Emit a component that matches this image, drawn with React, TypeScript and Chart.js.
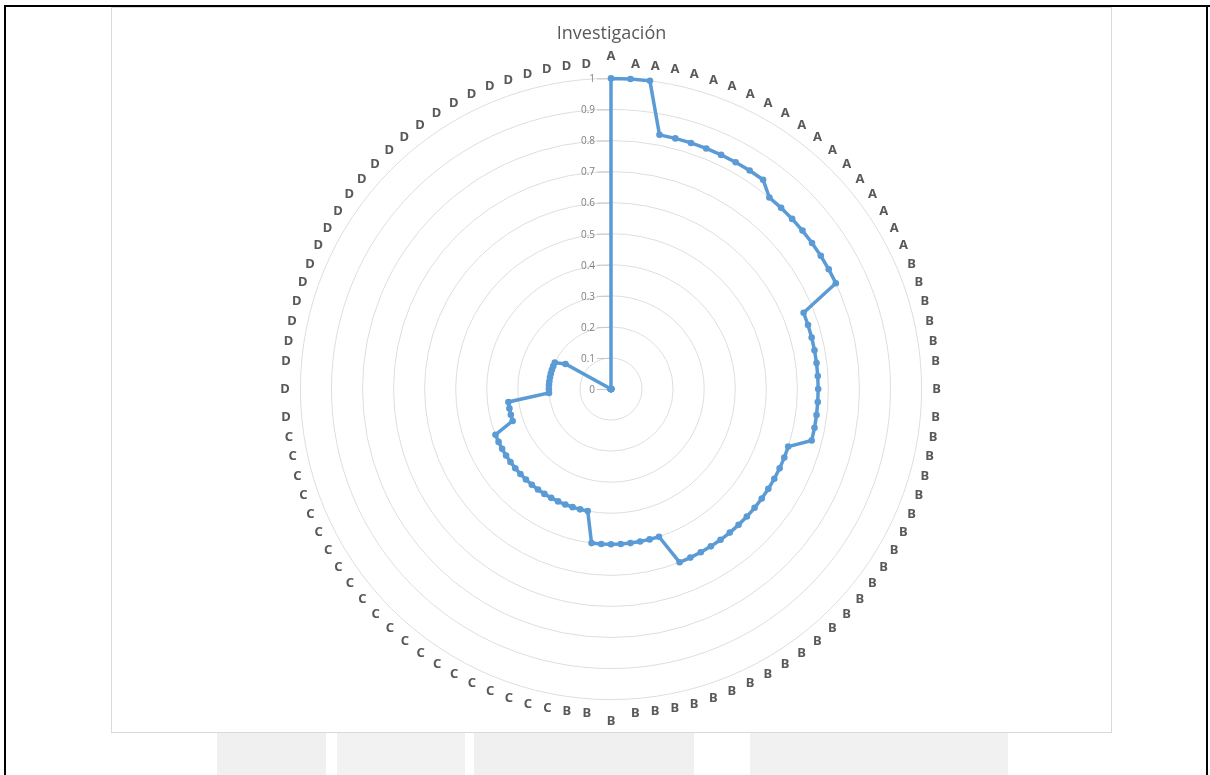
import React, { useEffect, useRef } from "react";
import { Chart, registerables } from "chart.js";

Chart.register(...registerables);

const chartTitle = "Investigación";

// 100 categories, clockwise from the top
const categoryLabels: string[] = [
  "A", "A", "A", "A", "A", "A", "A", "A", "A", "A",
  "A", "A", "A", "A", "A", "A", "A", "A", "A",
  "B", "B", "B", "B", "B", "B", "B", "B", "B", "B",
  "B", "B", "B", "B", "B", "B", "B", "B", "B", "B",
  "B", "B", "B", "B", "B", "B", "B", "B", "B", "B",
  "B", "B", "B", "B",
  "C", "C", "C", "C", "C", "C", "C", "C", "C", "C",
  "C", "C", "C", "C", "C", "C", "C", "C", "C", "C", "C",
  "D", "D", "D", "D", "D", "D", "D", "D", "D", "D",
  "D", "D", "D", "D", "D", "D", "D", "D", "D", "D",
  "D", "D", "D", "D", "D", "D",
];

const seriesValues: number[] = [
  1, 1, 1,
  0.833, 0.833, 0.833, 0.833, 0.833, 0.833, 0.833, 0.833,
  0.8, 0.8, 0.8, 0.8, 0.8, 0.8, 0.8, 0.8,
  0.667, 0.667, 0.667, 0.667, 0.667, 0.667, 0.667, 0.667, 0.667, 0.667, 0.667,
  0.6, 0.6, 0.6, 0.6, 0.6, 0.6, 0.6, 0.6, 0.6, 0.6, 0.6, 0.6, 0.6, 0.6, 0.6,
  0.5, 0.5, 0.5, 0.5, 0.5, 0.5, 0.5, 0.5,
  0.4, 0.4, 0.4, 0.4, 0.4, 0.4, 0.4, 0.4, 0.4, 0.4, 0.4, 0.4, 0.4, 0.4, 0.4, 0.4, 0.4,
  0.333, 0.333, 0.333, 0.333,
  0.2, 0.2, 0.2, 0.2, 0.2, 0.2, 0.2, 0.2, 0.2,
  0.167,
  0, 0, 0, 0, 0, 0, 0, 0, 0, 0, 0, 0, 0, 0, 0, 0,
];

const tickLabels: string[] = ["0", "0.1", "0.2", "0.3", "0.4", "0.5", "0.6", "0.7", "0.8", "0.9", "1"];

// style constants for point-label placement (label centres on a ring, Excel-like)
const PLOT_RADIUS = 311;
const LABEL_RING = 326;
const LABEL_RING_VERTICAL = 333;
const LABEL_HALF_W = 4.3;
const LABEL_HALF_H = 7.8;

const tickLabelPlugin = {
  id: "leftTickLabels",
  beforeDatasetsDraw(chart: any) {
    const scale = chart.scales.r;
    if (!scale) return;
    const ctx = chart.ctx;
    ctx.save();
    ctx.font = "10px 'Open Sans', 'Noto Sans', sans-serif";
    ctx.textAlign = "right";
    ctx.textBaseline = "middle";
    tickLabels.forEach((lab) => {
      const v = parseFloat(lab);
      const d = scale.getDistanceFromCenterForValue(v);
      const y = scale.yCenter - d;
      ctx.strokeStyle = "#c8c8c8";
      ctx.lineWidth = 1;
      ctx.beginPath();
      ctx.moveTo(scale.xCenter - 14, y + 0.5);
      ctx.lineTo(scale.xCenter, y + 0.5);
      ctx.stroke();
      ctx.fillStyle = "#7f7f7f";
      ctx.fillText(lab, scale.xCenter - 16, y + 1);
    });
    ctx.restore();
  },
};

function RadarChart() {
  const ref = useRef<HTMLCanvasElement | null>(null);
  useEffect(() => {
    if (!ref.current) return;
    const n = categoryLabels.length;
    const chart = new Chart(ref.current, {
      type: "radar",
      data: {
        labels: categoryLabels,
        datasets: [
          {
            data: seriesValues,
            borderColor: "#5b9bd5",
            backgroundColor: "#5b9bd5",
            borderWidth: 3.5,
            pointRadius: 3.3,
            pointBorderWidth: 0,
            pointBackgroundColor: "#5b9bd5",
            fill: false,
            tension: 0,
          },
        ],
      },
      options: {
        animation: false,
        responsive: true,
        maintainAspectRatio: false,
        layout: { padding: { top: 0, bottom: 2.4, left: 0, right: 0 } },
        plugins: {
          legend: { display: false },
          tooltip: { enabled: false },
          title: {
            display: true,
            text: chartTitle,
            color: "#595959",
            font: { family: "'Open Sans', 'Noto Sans', sans-serif", size: 18, weight: "normal" },
            padding: { top: 16, bottom: 4 },
          },
        },
        scales: {
          r: {
            min: 0,
            max: 1,
            ticks: { stepSize: 0.1, display: false },
            grid: { circular: true, color: "#dedede", lineWidth: 1 },
            angleLines: { display: false },
            pointLabels: {
              display: true,
              color: "#595959",
              padding: (c: any) => {
                const a = (c.index / n) * 2 * Math.PI;
                const s = Math.abs(Math.sin(a));
                const co = Math.abs(Math.cos(a));
                const ring = c.index === 0 || c.index === n / 2 ? LABEL_RING_VERTICAL : LABEL_RING;
                return Math.max(2, ring - PLOT_RADIUS - (LABEL_HALF_W * s + LABEL_HALF_H * co));
              },
              font: { family: "'Noto Sans', sans-serif", size: 13, weight: "bold" },
            },
          },
        },
      } as any,
      plugins: [tickLabelPlugin],
    });
    return () => chart.destroy();
  }, []);
  return <canvas ref={ref} />;
}

export default function App() {
  return (
    <div style={{ position: "fixed", left: 0, top: 0, width: 1210, height: 775, background: "#ffffff", overflow: "hidden" }}>
      {/* faint watermark below the chart */}
      <div style={{ position: "absolute", left: 217, top: 733, width: 109, height: 42, background: "#f0f0f0" }} />
      <div style={{ position: "absolute", left: 337, top: 733, width: 128, height: 42, background: "#f2f2f2" }} />
      <div style={{ position: "absolute", left: 474, top: 733, width: 220, height: 42, background: "#f0f0f0" }} />
      <div style={{ position: "absolute", left: 750, top: 733, width: 258, height: 42, background: "#f1f1f1" }} />
      {/* document table borders */}
      <div style={{ position: "absolute", left: 4, top: 5, width: 1206, height: 2, background: "#000" }} />
      <div style={{ position: "absolute", left: 4, top: 5, width: 2, height: 770, background: "#000" }} />
      <div style={{ position: "absolute", left: 1206, top: 5, width: 2, height: 770, background: "#000" }} />
      {/* chart frame */}
      <div style={{ position: "absolute", left: 111, top: 7, width: 1001, height: 726, boxSizing: "border-box", border: "1px solid #d9d9d9", background: "#fff" }} />
      <div style={{ position: "absolute", left: 111, top: 7, width: 1001, height: 726 }}>
        <RadarChart />
      </div>
    </div>
  );
}
